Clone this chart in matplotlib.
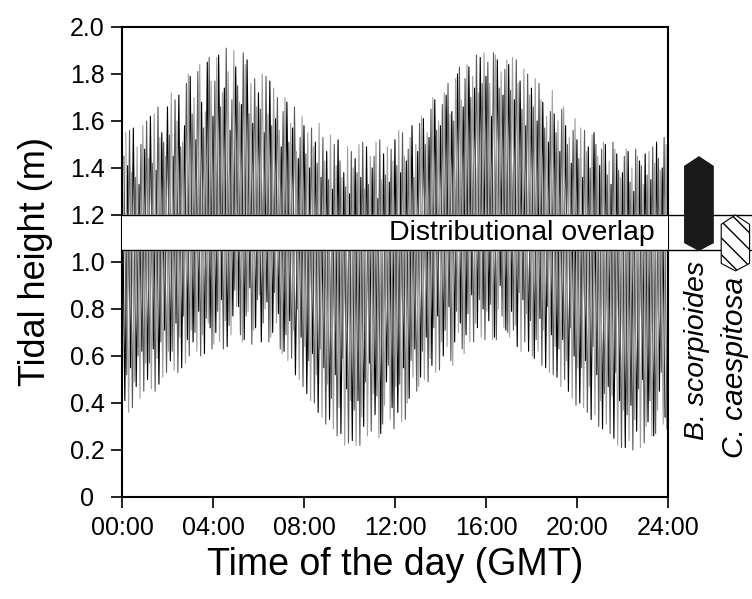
import numpy as np
import matplotlib
matplotlib.use("Agg")
import matplotlib.pyplot as plt
from matplotlib.patches import Polygon
from matplotlib.transforms import blended_transform_factory

plt.rcParams['font.family'] = ['Liberation Sans', 'DejaVu Sans']

# tidal record sampled every 15 min, three overlaid records
# (high and low of each quarter-hour swing, metres)
hi_a = [1.52, 1.41, 1.57, 1.33, 1.48, 1.62, 1.39, 1.55, 1.66, 1.45, 1.71, 1.58,
        1.79, 1.52, 1.68, 1.85, 1.62, 1.88, 1.74, 1.56, 1.83, 1.67, 1.86, 1.59,
        1.72, 1.55, 1.77, 1.61, 1.49, 1.68, 1.57, 1.44, 1.58, 1.40, 1.51, 1.36,
        1.47, 1.31, 1.52, 1.38, 1.29, 1.44, 1.36, 1.49, 1.40, 1.27, 1.46, 1.34,
        1.52, 1.38, 1.43, 1.58, 1.47, 1.61, 1.53, 1.69, 1.58, 1.71, 1.64, 1.80,
        1.66, 1.83, 1.74, 1.87, 1.79, 1.62, 1.86, 1.71, 1.84, 1.69, 1.77, 1.58,
        1.74, 1.60, 1.68, 1.51, 1.63, 1.47, 1.58, 1.42, 1.52, 1.36, 1.49, 1.55,
        1.41, 1.50, 1.33, 1.46, 1.38, 1.47, 1.30, 1.43, 1.46, 1.35, 1.51, 1.40]
lo_a = [0.41, 0.55, 0.47, 0.62, 0.50, 0.63, 0.48, 0.71, 0.58, 0.74, 0.55, 0.67,
        0.66, 0.79, 0.61, 0.72, 0.70, 0.84, 0.64, 0.77, 0.81, 0.67, 0.89, 0.72,
        0.66, 0.83, 0.70, 0.78, 0.62, 0.75, 0.52, 0.68, 0.44, 0.61, 0.36, 0.55,
        0.33, 0.52, 0.27, 0.46, 0.24, 0.41, 0.30, 0.57, 0.35, 0.27, 0.49, 0.38,
        0.36, 0.55, 0.42, 0.63, 0.51, 0.68, 0.56, 0.77, 0.60, 0.81, 0.66, 0.74,
        0.69, 0.86, 0.72, 0.80, 0.75, 0.68, 0.90, 0.71, 0.79, 0.64, 0.84, 0.62,
        0.59, 0.76, 0.55, 0.69, 0.51, 0.67, 0.45, 0.60, 0.40, 0.58, 0.33, 0.52,
        0.29, 0.47, 0.25, 0.41, 0.21, 0.39, 0.28, 0.50, 0.32, 0.26, 0.45, 0.34]

hi_b = [1.45, 1.56, 1.36, 1.50, 1.60, 1.42, 1.66, 1.51, 1.54, 1.69, 1.49, 1.76,
        1.63, 1.81, 1.57, 1.87, 1.77, 1.66, 1.91, 1.69, 1.75, 1.89, 1.63, 1.78,
        1.65, 1.79, 1.58, 1.70, 1.64, 1.51, 1.66, 1.53, 1.46, 1.57, 1.42, 1.53,
        1.35, 1.50, 1.43, 1.32, 1.47, 1.38, 1.51, 1.33, 1.45, 1.52, 1.37, 1.48,
        1.41, 1.55, 1.48, 1.36, 1.59, 1.50, 1.65, 1.56, 1.67, 1.76, 1.60, 1.83,
        1.78, 1.70, 1.88, 1.76, 1.85, 1.89, 1.74, 1.82, 1.73, 1.86, 1.65, 1.80,
        1.66, 1.76, 1.57, 1.64, 1.55, 1.65, 1.50, 1.56, 1.44, 1.56, 1.40, 1.50,
        1.48, 1.37, 1.51, 1.39, 1.45, 1.34, 1.48, 1.41, 1.37, 1.49, 1.44, 1.53]
lo_b = [0.52, 0.38, 0.60, 0.45, 0.57, 0.45, 0.66, 0.53, 0.62, 0.53, 0.77, 0.60,
        0.70, 0.60, 0.76, 0.63, 0.79, 0.63, 0.73, 0.88, 0.69, 0.77, 0.65, 0.84,
        0.74, 0.66, 0.87, 0.63, 0.69, 0.59, 0.80, 0.47, 0.58, 0.40, 0.63, 0.31,
        0.42, 0.26, 0.59, 0.23, 0.37, 0.22, 0.49, 0.28, 0.43, 0.31, 0.56, 0.29,
        0.48, 0.33, 0.58, 0.45, 0.62, 0.49, 0.72, 0.54, 0.71, 0.58, 0.79, 0.63,
        0.78, 0.66, 0.84, 0.67, 0.82, 0.67, 0.77, 0.70, 0.71, 0.87, 0.66, 0.75,
        0.67, 0.56, 0.81, 0.52, 0.63, 0.50, 0.72, 0.39, 0.55, 0.36, 0.64, 0.30,
        0.44, 0.27, 0.53, 0.21, 0.35, 0.20, 0.46, 0.23, 0.41, 0.27, 0.53, 0.29]

hi_c = [1.55, 1.38, 1.49, 1.58, 1.44, 1.63, 1.53, 1.45, 1.72, 1.60, 1.51, 1.80,
        1.70, 1.84, 1.64, 1.77, 1.87, 1.72, 1.81, 1.90, 1.68, 1.84, 1.76, 1.66,
        1.80, 1.63, 1.74, 1.56, 1.70, 1.59, 1.47, 1.62, 1.55, 1.49, 1.59, 1.43,
        1.54, 1.41, 1.36, 1.49, 1.40, 1.50, 1.31, 1.45, 1.51, 1.35, 1.49, 1.43,
        1.56, 1.45, 1.53, 1.50, 1.62, 1.55, 1.70, 1.60, 1.72, 1.63, 1.78, 1.69,
        1.84, 1.79, 1.72, 1.89, 1.76, 1.88, 1.81, 1.86, 1.87, 1.76, 1.82, 1.71,
        1.78, 1.69, 1.62, 1.73, 1.60, 1.66, 1.53, 1.61, 1.57, 1.47, 1.54, 1.45,
        1.51, 1.43, 1.48, 1.36, 1.48, 1.40, 1.45, 1.33, 1.47, 1.42, 1.39, 1.50]
lo_c = [0.36, 0.49, 0.42, 0.57, 0.46, 0.59, 0.51, 0.62, 0.54, 0.68, 0.57, 0.71,
        0.62, 0.69, 0.74, 0.65, 0.66, 0.75, 0.69, 0.81, 0.66, 0.79, 0.71, 0.86,
        0.80, 0.68, 0.74, 0.61, 0.58, 0.71, 0.50, 0.64, 0.41, 0.52, 0.34, 0.48,
        0.29, 0.38, 0.22, 0.41, 0.22, 0.34, 0.26, 0.44, 0.25, 0.39, 0.33, 0.47,
        0.32, 0.40, 0.51, 0.47, 0.50, 0.59, 0.53, 0.66, 0.64, 0.56, 0.70, 0.61,
        0.66, 0.74, 0.68, 0.79, 0.67, 0.80, 0.72, 0.68, 0.73, 0.62, 0.78, 0.60,
        0.62, 0.71, 0.53, 0.64, 0.47, 0.58, 0.42, 0.55, 0.38, 0.47, 0.35, 0.41,
        0.31, 0.43, 0.22, 0.37, 0.24, 0.33, 0.21, 0.30, 0.26, 0.37, 0.31, 0.28]

records = [(hi_a, lo_a, 0.0, '#000000'),
           (hi_b, lo_b, 0.083, '#5a5a5a'),
           (hi_c, lo_c, 0.167, '#a0a0a0')]

overlap = (1.05, 1.2)
species = ['B. scorpioides', 'C. caespitosa']
ranges = [(1.05, 1.447), (0.962, 1.2)]

yticks = [0, 0.2, 0.4, 0.6, 0.8, 1.0, 1.2, 1.4, 1.6, 1.8, 2.0]
ylabels = ['0', '0.2', '0.4', '0.6', '0.8', '1.0', '1.2', '1.4', '1.6', '1.8', '2.0']
xticks = [0, 4, 8, 12, 16, 20, 24]
xlabels = ['00:00', '04:00', '08:00', '12:00', '16:00', '20:00', '24:00']

fig = plt.figure(figsize=(7.52, 5.99), dpi=100)
ax = fig.add_axes([0.1622, 0.1703, 0.726, 0.7847])

for hi, lo, off, col in records:
    t = np.arange(len(hi)) * 0.25 + off
    tt = np.empty(2 * len(hi))
    yy = np.empty(2 * len(hi))
    tt[0::2] = t
    tt[1::2] = t + 0.125
    yy[0::2] = hi
    yy[1::2] = lo
    ax.plot(tt, yy, color=col, lw=0.8, zorder=2)

# overlap band
ax.axhspan(overlap[0], overlap[1], color='white', zorder=3)
trans = blended_transform_factory(ax.transAxes, ax.transData)
for yv in overlap:
    ax.plot([0, 1.16], [yv, yv], color='black', lw=1.0, transform=trans,
            clip_on=False, zorder=4)
ax.text(0.976, sum(overlap) / 2, 'Distributional overlap', transform=trans,
        ha='right', va='center', fontsize=20.5, zorder=5)

# species ranges
centers = [1.0568, 1.1236]
half_w = 0.026
tip = 0.04
styles = [dict(facecolor='#1a1a1a', edgecolor='#1a1a1a'),
          dict(facecolor='white', edgecolor='black', hatch='\\\\', lw=0.8)]
for cx, (lo, hi), st in zip(centers, ranges, styles):
    pts = [(cx, hi), (cx + half_w, hi - tip), (cx + half_w, lo + tip * 0.8),
           (cx, lo), (cx - half_w, lo + tip * 0.8), (cx - half_w, hi - tip)]
    ax.add_patch(Polygon(pts, closed=True, transform=trans, clip_on=False,
                         zorder=5, **st))

fig.text(697 / 752, 1 - 440 / 599, species[0], rotation=90, ha='center',
         va='bottom', fontsize=20.5, style='italic')
fig.text(735 / 752, 1 - 458 / 599, species[1], rotation=90, ha='center',
         va='bottom', fontsize=21.5, style='italic')

ax.set_xlim(0, 24)
ax.set_ylim(0, 2.0)
ax.set_xticks(xticks)
ax.set_xticklabels(xlabels)
ax.set_yticks(yticks)
ax.set_yticklabels(ylabels, ha='center')
ax.tick_params(direction='out', length=8, width=1.2, labelsize=18,
               top=False, right=False)
ax.tick_params(axis='x', pad=6)
ax.tick_params(axis='y', pad=17)
for sp in ax.spines.values():
    sp.set_linewidth(1.5)

ax.set_xlabel('Time of the day (GMT)', fontsize=27)
ax.xaxis.set_label_coords(0.5, -0.145)
ax.xaxis.label.set_va('center')
ax.set_ylabel('Tidal height (m)', fontsize=26)
ax.yaxis.set_label_coords(-0.1575, 0.5)
ax.yaxis.label.set_va('center')

fig.savefig('out.png', dpi=100)
